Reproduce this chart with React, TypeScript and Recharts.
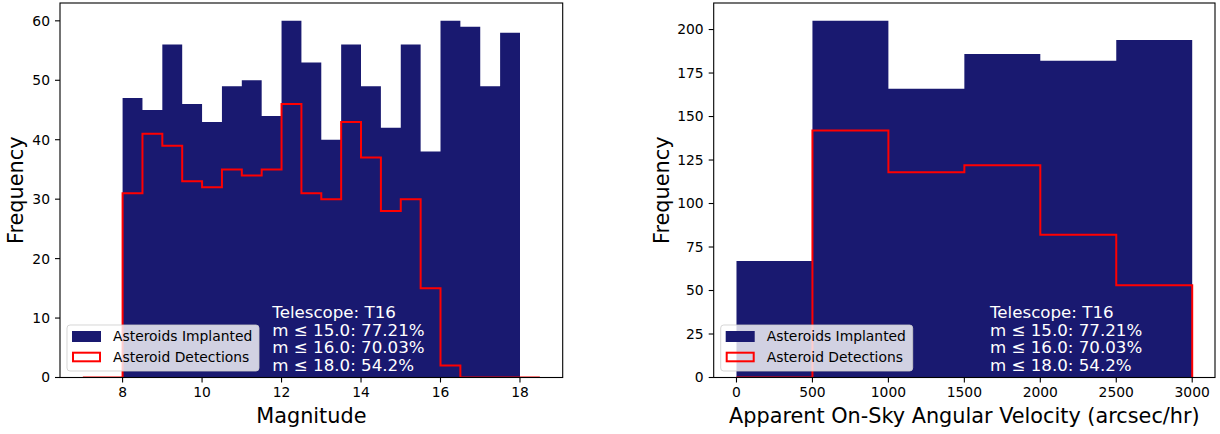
import { ComposedChart, Area, Line, XAxis, YAxis } from 'recharts';

// magnitude histogram, bins of 0.5 (edges listed explicitly)
const MAG_EDGES = [7, 7.5, 8, 8.5, 9, 9.5, 10, 10.5, 11, 11.5, 12, 12.5, 13, 13.5, 14, 14.5, 15, 15.5, 16, 16.5, 17, 17.5, 18, 18.5];
const MAG_IMPLANTED = [0, 0, 47, 45, 56, 46, 43, 49, 50, 44, 60, 53, 40, 56, 49, 42, 56, 38, 60, 59, 49, 58, 0];
const MAG_DETECTED = [0, 0, 31, 41, 39, 33, 32, 35, 34, 35, 46, 31, 30, 43, 37, 28, 30, 15, 2, 0, 0, 0, 0];
const MAG_TICKS = [8, 10, 12, 14, 16, 18];
const MAG_FREQ_TICKS = [0, 10, 20, 30, 40, 50, 60];

// angular velocity histogram, bins of 500 arcsec/hr
const VEL_EDGES = [0, 500, 1000, 1500, 2000, 2500, 3000];
const VEL_IMPLANTED = [67, 205, 166, 186, 182, 194];
const VEL_DETECTED = [0, 142, 118, 122, 82, 53];
const VEL_TICKS = [0, 500, 1000, 1500, 2000, 2500, 3000];
const VEL_FREQ_TICKS = [0, 25, 50, 75, 100, 125, 150, 175, 200];

const STATS = ['Telescope: T16', 'm \u2264 15.0: 77.21%', 'm \u2264 16.0: 70.03%', 'm \u2264 18.0: 54.2%'];

const NAVY = '#191970';
const RED = '#ff0000';
const FONT = 'DejaVu Sans, sans-serif';

// one row per bin edge; stepAfter holds each bin's count until the next edge
const toSteps = (edges: number[], implanted: number[], detected: number[]) =>
  edges.map((x, i) => ({ x, implanted: implanted[i] ?? 0, detected: detected[i] ?? 0 }));

const PLOT_TOP = 3;
const PLOT_BOTTOM = 377.5;
const H = 434;

interface PanelProps {
  left: number;
  width: number;
  plotLeft: number;
  plotRight: number;
  data: { x: number; implanted: number; detected: number }[];
  xDomain: [number, number];
  xTicks: number[];
  yDomain: [number, number];
  yTicks: number[];
  xLabel: string;
  yLabelOffset: number;
}

function Panel(p: PanelProps) {
  const tick = { fill: '#000', fontSize: 13.89, fontFamily: FONT };
  return (
    <div style={{ position: 'absolute', left: p.left, top: 0 }}>
      <ComposedChart
        width={p.width}
        height={H}
        data={p.data}
        margin={{ top: PLOT_TOP, right: p.left + p.width - p.plotRight, bottom: 0, left: p.plotLeft - p.left - 60 }}
        style={{ fontFamily: FONT }}
      >
        <XAxis
          dataKey="x"
          type="number"
          domain={p.xDomain}
          allowDataOverflow
          ticks={p.xTicks}
          height={H - PLOT_BOTTOM - PLOT_TOP + 3}
          axisLine={false}
          tickLine={{ stroke: '#000', strokeWidth: 1.1 }}
          tickSize={5}
          tickMargin={5}
          tick={tick}
          label={{ value: p.xLabel, position: 'insideBottom', offset: 11.5, fill: '#000', fontSize: 20.8, fontFamily: FONT }}
        />
        <YAxis
          type="number"
          domain={p.yDomain}
          allowDataOverflow
          ticks={p.yTicks}
          width={60}
          axisLine={false}
          tickLine={{ stroke: '#000', strokeWidth: 1.1 }}
          tickSize={5}
          tickMargin={5}
          tick={tick}
          label={{
            value: 'Frequency',
            angle: -90,
            position: 'insideLeft',
            offset: p.yLabelOffset,
            fill: '#000',
            fontSize: 20.8,
            fontFamily: FONT,
            style: { textAnchor: 'middle' },
          }}
        />
        <Area
          type="stepAfter"
          dataKey="implanted"
          fill={NAVY}
          fillOpacity={1}
          stroke="none"
          isAnimationActive={false}
          dot={false}
          activeDot={false}
        />
        <Line
          type="stepAfter"
          dataKey="detected"
          stroke={RED}
          strokeWidth={2}
          isAnimationActive={false}
          dot={false}
          activeDot={false}
        />
      </ComposedChart>
    </div>
  );
}

function Overlay({ plotLeft, plotRight, statsX }: { plotLeft: number; plotRight: number; statsX: number }) {
  const lx = plotLeft + 7;
  return (
    <g>
      <rect
        x={plotLeft}
        y={PLOT_TOP}
        width={plotRight - plotLeft}
        height={PLOT_BOTTOM - PLOT_TOP}
        fill="none"
        stroke="#000"
        strokeWidth={1.1}
      />
      {STATS.map((s, i) => (
        <text key={s} x={statsX} y={317.7 + i * 17.8} fill="#fff" fontSize={16.67} fontFamily={FONT}>
          {s}
        </text>
      ))}
      <rect x={lx} y={325} width={192} height={46} rx={3} fill="rgba(255,255,255,0.8)" stroke="rgba(204,204,204,0.8)" strokeWidth={1} />
      <rect x={lx + 5} y={331} width={29} height={11} fill={NAVY} />
      <rect x={lx + 6} y={352.7} width={27} height={8.6} fill="none" stroke={RED} strokeWidth={2} />
      <text x={lx + 46} y={341.4} fill="#000" fontSize={13.89} fontFamily={FONT}>Asteroids Implanted</text>
      <text x={lx + 46} y={361.9} fill="#000" fontSize={13.89} fontFamily={FONT}>Asteroid Detections</text>
    </g>
  );
}

export default function App() {
  const magData = toSteps(MAG_EDGES, MAG_IMPLANTED, MAG_DETECTED);
  const velData = toSteps(VEL_EDGES, VEL_IMPLANTED, VEL_DETECTED);

  return (
    <div style={{ position: 'absolute', left: 0, top: 0, width: 1220, height: H, background: '#fff', overflow: 'hidden' }}>
      <Panel
        left={0}
        width={600}
        plotLeft={60}
        plotRight={562.7}
        data={magData}
        xDomain={[6.425, 19.075]}
        xTicks={MAG_TICKS}
        yDomain={[0, 63]}
        yTicks={MAG_FREQ_TICKS}
        xLabel="Magnitude"
        yLabelOffset={15.5}
      />
      <Panel
        left={620}
        width={600}
        plotLeft={713.7}
        plotRight={1215}
        data={velData}
        xDomain={[-150, 3150]}
        xTicks={VEL_TICKS}
        yDomain={[0, 215.25]}
        yTicks={VEL_FREQ_TICKS}
        xLabel="Apparent On-Sky Angular Velocity (arcsec/hr)"
        yLabelOffset={7.5}
      />
      <svg width={1220} height={H} style={{ position: 'absolute', left: 0, top: 0, pointerEvents: 'none' }}>
        <Overlay plotLeft={60} plotRight={562.7} statsX={272.3} />
        <Overlay plotLeft={713.7} plotRight={1215} statsX={990} />
      </svg>
    </div>
  );
}
